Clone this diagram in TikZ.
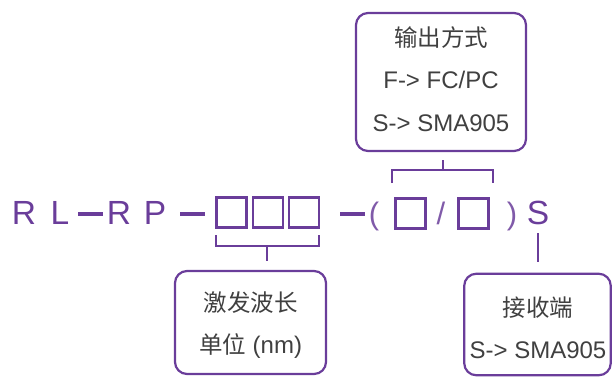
\documentclass[tikz,border=0pt]{standalone}
\usepackage{fontspec}
\setmainfont{Liberation Sans}
\newfontfamily\cjk{Noto Sans CJK SC}
\definecolor{pp}{HTML}{6A3D9A}
\definecolor{tx}{HTML}{404040}
\begin{document}
\begin{tikzpicture}[x=1pt,y=-1pt,
  big/.style={font=\fontsize{33.5}{40}\selectfont, text=pp, inner sep=0pt, anchor=base},
  thin/.style={font=\fontsize{31}{36}\selectfont, text=pp!85, inner sep=0pt, anchor=base},
  info/.style={font=\fontsize{24}{28}\selectfont, text=tx, inner sep=0pt, anchor=base},
  cinfo/.style={font=\cjk\fontsize{23.5}{28}\selectfont, text=tx, inner sep=0pt, anchor=base},
  frame/.style={draw=pp, line width=2.2pt, rounded corners=12pt, inner sep=0pt},
  sq/.style={draw=pp, line width=2.8pt, minimum size=30pt, inner sep=0pt},
  link/.style={draw=pp, line width=2.5pt},
  bar/.style={draw=pp, line width=4pt}]
\useasboundingbox (0,0) rectangle (613,376);

% main code line
\node[big] (r1) at (24,224) {R};
\node[big] (l1) at (60,224) {L};
\coordinate (d1a) at (78,214); \coordinate (d1b) at (103,214);
\draw[bar] (d1a) -- (d1b);
\node[big] (r2) at (119,224) {R};
\node[big] (p2) at (155,224) {P};
\coordinate (d2a) at (180,214); \coordinate (d2b) at (205,214);
\draw[bar] (d2a) -- (d2b);
\node[sq] (b1) at (231.5,212.5) {};
\node[sq] (b2) at (268,212.5) {};
\node[sq] (b3) at (304,212.5) {};
\coordinate (d3a) at (340,214); \coordinate (d3b) at (365,214);
\draw[bar] (d3a) -- (d3b);
\node[thin] (lp) at (374,224) {(};
\node[sq] (b4) at (410.5,213.5) {};
\node[thin] (sl) at (441,224) {/};
\node[sq] (b5) at (473.5,213.5) {};
\node[thin] (rp) at (512,224) {)};
\node[big] (s) at (538,224) {S};

% top box
\node[frame, minimum width=170pt, minimum height=138pt] (top) at (441,82) {};
\node[cinfo] (t1) at (441,46) {输出方式};
\node[info] (t2) at (441,88.5) {F-> FC/PC};
\node[info] (t3) at (441,131.5) {S-> SMA905};
\coordinate (ts) at (443,160);
\coordinate (tm) at (443,170);
\draw[link] (ts) -- (tm);
\draw[link] (392,183) -- (392,170) -- (493,170) -- (493,183);

% bottom-left box
\draw[link] (216,235) -- (216,246) -- (319,246) -- (319,235);
\coordinate (ls) at (267,246);
\coordinate (le) at (267,261);
\draw[link] (ls) -- (le);
\node[frame, minimum width=151pt, minimum height=103pt] (wl) at (250.5,322.5) {};
\node[cinfo] (w1) at (250.5,311) {激发波长};
\node[info] (w2) at (250.5,353) {{\cjk\fontsize{23.5}{28}\selectfont 单位} (nm)};

% right box
\coordinate (rs) at (538,233);
\coordinate (re) at (538,262);
\draw[link] (rs) -- (re);
\node[frame, minimum width=146.5pt, minimum height=101.5pt] (wr) at (537.5,324.5) {};
\node[cinfo] (s1) at (538,316) {接收端};
\node[info] (s2) at (538,358) {S-> SMA905};
\end{tikzpicture}
\end{document}
